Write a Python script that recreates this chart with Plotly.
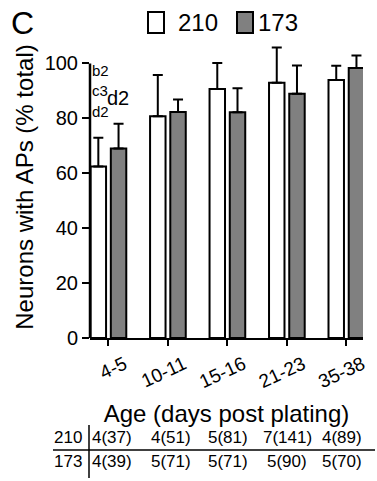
import plotly.graph_objects as go

ages = ["4-5", "10-11", "15-16", "21-23", "35-38"]
vals_210 = [62.5, 80.8, 90.7, 93.0, 94.0]
err_210 = [10.4, 15.0, 9.5, 12.8, 5.2]
vals_173 = [69.0, 82.3, 82.2, 89.0, 98.3]
err_173 = [9.0, 4.6, 8.8, 10.3, 4.6]
table_210 = ["4(37)", "4(51)", "5(81)", "7(141)", "4(89)"]
table_173 = ["4(39)", "5(71)", "5(71)", "5(90)", "5(70)"]
yticks = [0, 20, 40, 60, 80, 100]

FONT = "Liberation Sans, Arial, Helvetica, sans-serif"
xs = list(range(len(ages)))

fig = go.Figure()
fig.add_trace(go.Bar(
    x=xs, y=vals_210, width=0.26, offset=-0.30, name="210",
    marker=dict(color="white", line=dict(color="black", width=2)),
    error_y=dict(type="data", symmetric=False, array=err_210, arrayminus=[0]*5,
                 color="black", thickness=2, width=5),
))
fig.add_trace(go.Bar(
    x=xs, y=vals_173, width=0.26, offset=0.04, name="173",
    marker=dict(color="#808080", line=dict(color="black", width=2)),
    error_y=dict(type="data", symmetric=False, array=err_173, arrayminus=[0]*5,
                 color="black", thickness=2, width=5),
))

fig.update_layout(
    width=377, height=481,
    margin=dict(l=90, r=14, t=36, b=143, autoexpand=False),
    paper_bgcolor="white", plot_bgcolor="white",
    showlegend=False,
    font=dict(family=FONT, color="black"),
    xaxis=dict(range=[-0.31, 4.28], tickmode="array", tickvals=xs, ticktext=ages,
               tickangle=-25, ticks="outside", ticklen=6, tickwidth=2, tickcolor="black",
               showline=True, linecolor="black", linewidth=2, showgrid=False, zeroline=False,
               tickfont=dict(size=19), automargin=False, ticklabelshift=16,
               title=dict(text="Age (days post plating)", font=dict(size=24), standoff=14)),
    yaxis=dict(range=[0, 110], tickmode="array", tickvals=yticks,
               ticks="outside", ticklen=7, tickwidth=2, tickcolor="black",
               showline=False, showgrid=False, zeroline=False, automargin=False,
               tickfont=dict(size=20), ticksuffix="\u00a0\u00a0",
               title=dict(text="Neurons with APs (% total)", font=dict(size=24), standoff=4)),
)

def px_to_paper(xp, yp):
    return (xp - 90) / 273, (481 - 143 - yp) / 302

# y axis line up to 100
fig.add_shape(type="line", xref="paper", yref="y", x0=0, x1=0, y0=0, y1=100,
              line=dict(color="black", width=2.5))

# significance labels
for txt, yv, xpx, sz in [("b2", 97.5, 100, 15), ("c3", 90, 100, 15), ("d2", 82.5, 100, 15)]:
    fig.add_annotation(text=txt, xref="paper", yref="y", x=(xpx - 90) / 273, y=yv,
                       showarrow=False, font=dict(size=sz), xanchor="center", yanchor="middle")
fig.add_annotation(text="d2", xref="paper", yref="y", x=(118 - 90) / 273, y=87.5,
                   showarrow=False, font=dict(size=20), xanchor="center", yanchor="middle")

# panel letter
cx, cy = px_to_paper(22, 23)
fig.add_annotation(text="C", xref="paper", yref="paper", x=cx, y=cy,
                   xanchor="center", yanchor="middle", showarrow=False, font=dict(size=32))

# legend
for x0, x1, col, label, tx in [(148, 164, "white", "210", 176), (237, 253, "#808080", "173", 256)]:
    a0, b0 = px_to_paper(x0, 33)
    a1, b1 = px_to_paper(x1, 12)
    fig.add_shape(type="rect", xref="paper", yref="paper", x0=a0, x1=a1, y0=b0, y1=b1,
                  line=dict(color="black", width=2), fillcolor=col)
    ax, ay = px_to_paper(tx, 23)
    fig.add_annotation(text=label, xref="paper", yref="paper", x=ax, y=ay,
                       xanchor="left", yanchor="middle", showarrow=False, font=dict(size=24))

# table below
centers_px = [112, 171, 228, 287, 342]
for lab, entries, ypx in [("210", table_210, 437), ("173", table_173, 462)]:
    ax, ay = px_to_paper(84, ypx)
    fig.add_annotation(text=lab, xref="paper", yref="paper", x=ax, y=ay,
                       xanchor="right", yanchor="middle", showarrow=False, font=dict(size=17))
    for cxp, e in zip(centers_px, entries):
        ex, ey = px_to_paper(cxp, ypx)
        fig.add_annotation(text=e, xref="paper", yref="paper", x=ex, y=ey,
                           xanchor="center", yanchor="middle", showarrow=False, font=dict(size=17))

hx0, hy = px_to_paper(53, 450)
hx1, _ = px_to_paper(375, 450)
fig.add_shape(type="line", xref="paper", yref="paper", x0=hx0, x1=hx1, y0=hy, y1=hy,
              line=dict(color="black", width=1.5))
vx, vy0 = px_to_paper(89, 425)
_, vy1 = px_to_paper(89, 478)
fig.add_shape(type="line", xref="paper", yref="paper", x0=vx, x1=vx, y0=vy0, y1=vy1,
              line=dict(color="black", width=1.5))

fig.write_html("out.html", config={"displayModeBar": False},
               post_script="document.body.style.margin='0';document.body.style.padding='0';")
